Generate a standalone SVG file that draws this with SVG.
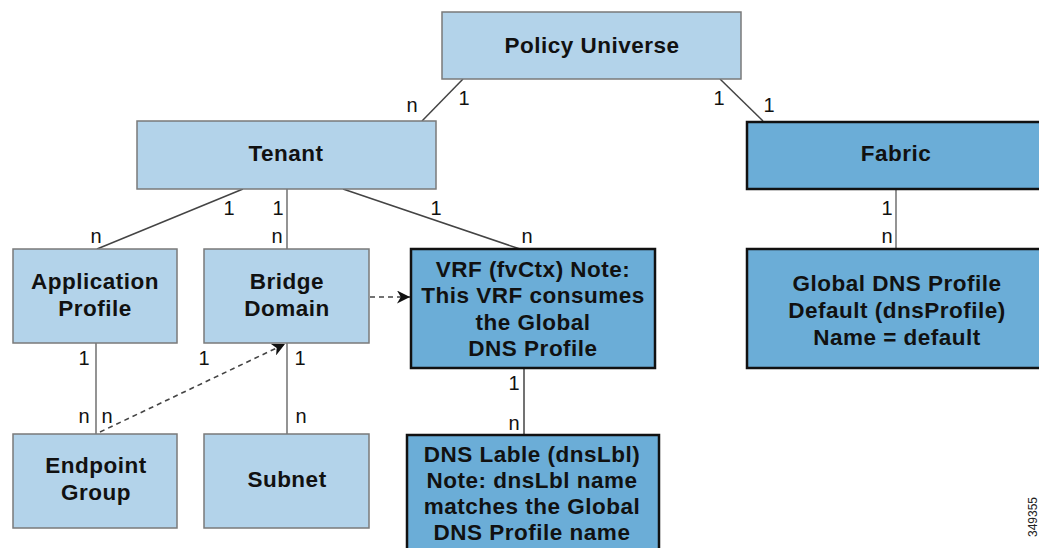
<svg xmlns="http://www.w3.org/2000/svg" width="1039" height="548" viewBox="0 0 1039 548">
<style>
.lt{fill:#b3d3ea;stroke:#7a7a7a;stroke-width:1.5}
.dk{fill:#6badd7;stroke:#111;stroke-width:2.5}
.t{font-family:"Liberation Sans",Arial,sans-serif;font-weight:bold;font-size:22.5px;fill:#111;text-anchor:middle;letter-spacing:0.5px}
.c{font-family:"Liberation Sans",Arial,sans-serif;font-size:20px;fill:#111;text-anchor:middle}
.ln{stroke:#444;stroke-width:1.5;fill:none}
.lg{stroke:#888;stroke-width:1.8;fill:none}
.ds{stroke:#444;stroke-width:1.6;fill:none;stroke-dasharray:5 4}
</style>
<defs>
<marker id="ah" viewBox="0 0 12 12" refX="12" refY="6" markerWidth="13" markerHeight="13" markerUnits="userSpaceOnUse" orient="auto">
<path d="M0,0 L12,6 L0,12 L3.5,6 Z" fill="#111"/>
</marker>
</defs>
<rect width="1039" height="548" fill="#fff"/>
<g id="connectors">
<line class="ln" x1="463" y1="79" x2="422" y2="121"/>
<line class="ln" x1="720" y1="79" x2="763" y2="121"/>
<line class="ln" x1="243" y1="189" x2="97" y2="249"/>
<line class="lg" x1="287" y1="189" x2="287" y2="249"/>
<line class="ln" x1="343" y1="189" x2="520" y2="249"/>
<line class="ds" x1="370" y1="297" x2="410" y2="297" marker-end="url(#ah)"/>
<line class="lg" x1="896" y1="189" x2="896" y2="249"/>
<line class="lg" x1="96" y1="343" x2="96" y2="434"/>
<line class="ds" x1="100" y1="432" x2="285" y2="344" marker-end="url(#ah)"/>
<line class="lg" x1="287" y1="343" x2="287" y2="434"/>
<line class="ln" x1="524" y1="368" x2="524" y2="435"/>
<text class="c" x="412" y="112">n</text>
<text class="c" x="464" y="105">1</text>
<text class="c" x="719" y="105">1</text>
<text class="c" x="769" y="112">1</text>
<text class="c" x="229" y="215">1</text>
<text class="c" x="96" y="243">n</text>
<text class="c" x="278" y="215">1</text>
<text class="c" x="277" y="243">n</text>
<text class="c" x="436" y="215">1</text>
<text class="c" x="527" y="243">n</text>
<text class="c" x="887" y="215">1</text>
<text class="c" x="887" y="243">n</text>
<text class="c" x="84" y="365">1</text>
<text class="c" x="204" y="365">1</text>
<text class="c" x="300" y="365">1</text>
<text class="c" x="84" y="423">n</text>
<text class="c" x="107" y="423">n</text>
<text class="c" x="301" y="423">n</text>
<text class="c" x="514" y="390">1</text>
<text class="c" x="514" y="430">n</text>
</g>
<g id="policy-universe">
<rect class="lt" x="442" y="12" width="299" height="67"/>
<text class="t" x="592" y="53">Policy Universe</text>
</g>
<g id="tenant">
<rect class="lt" x="137" y="121" width="299" height="68"/>
<text class="t" x="286" y="161">Tenant</text>
</g>
<g id="fabric">
<rect class="dk" x="747" y="122" width="300" height="67"/>
<text class="t" x="896" y="161">Fabric</text>
</g>
<g id="application-profile">
<rect class="lt" x="13" y="249" width="164" height="94"/>
<text class="t" x="95" y="289">Application</text>
<text class="t" x="95" y="316">Profile</text>
</g>
<g id="bridge-domain">
<rect class="lt" x="204" y="249" width="165" height="94"/>
<text class="t" x="287" y="289">Bridge</text>
<text class="t" x="287" y="316">Domain</text>
</g>
<g id="vrf">
<rect class="dk" x="411" y="249" width="244" height="119"/>
<text class="t" x="533" y="277">VRF (fvCtx) Note:</text>
<text class="t" x="533" y="303">This VRF consumes</text>
<text class="t" x="533" y="330">the Global</text>
<text class="t" x="533" y="356">DNS Profile</text>
</g>
<g id="global-dns-profile">
<rect class="dk" x="747" y="249" width="300" height="119"/>
<text class="t" x="897" y="291">Global DNS Profile</text>
<text class="t" x="897" y="318">Default (dnsProfile)</text>
<text class="t" x="897" y="345">Name = default</text>
</g>
<g id="endpoint-group">
<rect class="lt" x="13" y="434" width="164" height="94"/>
<text class="t" x="96" y="473">Endpoint</text>
<text class="t" x="96" y="500">Group</text>
</g>
<g id="subnet">
<rect class="lt" x="204" y="434" width="165" height="94"/>
<text class="t" x="287" y="487">Subnet</text>
</g>
<g id="dns-label">
<rect class="dk" x="407" y="435" width="252" height="125"/>
<text class="t" x="532" y="462">DNS Lable (dnsLbl)</text>
<text class="t" x="532" y="488">Note: dnsLbl name</text>
<text class="t" x="532" y="514">matches the Global</text>
<text class="t" x="532" y="540">DNS Profile name</text>
</g>
<text transform="translate(1037,497) rotate(-90)" font-family="Liberation Sans,Arial,sans-serif" font-size="12" fill="#222" text-anchor="end">349355</text>
</svg>
